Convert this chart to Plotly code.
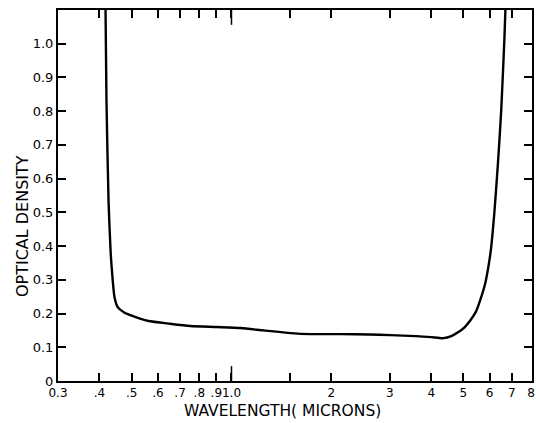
import numpy as np
import plotly.graph_objects as go

# Curve: wavelength (microns) and optical density
wavelength = [0.416, 0.4173, 0.420, 0.426, 0.432, 0.436, 0.444, 0.454, 0.475, 0.496,
              0.53, 0.562, 0.65, 0.752, 0.90, 1.065, 1.25, 1.51, 1.73, 2.13, 2.6,
              3.01, 3.6, 4.0, 4.35, 4.6, 4.83, 5.05, 5.25, 5.45, 5.62, 5.82, 5.95,
              6.05, 6.2, 6.35, 6.5, 6.65, 6.72]
optical_density = [1.15, 1.098, 0.831, 0.535, 0.388, 0.33, 0.249, 0.219, 0.203, 0.195,
                   0.185, 0.178, 0.170, 0.163, 0.160, 0.157, 0.150, 0.142, 0.139, 0.139,
                   0.138, 0.136, 0.133, 0.130, 0.127, 0.133, 0.145, 0.160, 0.180, 0.205,
                   0.240, 0.290, 0.340, 0.388, 0.50, 0.64, 0.80, 1.02, 1.15]

x_tickvals = [0.3, 0.4, 0.5, 0.6, 0.7, 0.8, 0.9, 1.0, 1.5, 2, 3, 4, 5, 6, 7, 8]
x_ticktext = ["0.3", ".4", ".5", ".6", ".7", ".8", ".9", "1.0", "", "2", "3", "4", "5", "6", "7", "8"]
y_tickvals = [0, 0.1, 0.2, 0.3, 0.4, 0.5, 0.6, 0.7, 0.8, 0.9, 1.0]
y_ticktext = ["0", "0.1", "0.2", "0.3", "0.4", "0.5", "0.6", "0.7", "0.8", "0.9", "1.0"]

x_title = "WAVELENGTH( MICRONS)"
y_title = "OPTICAL DENSITY"

font_family = "DejaVu Sans"

fig = go.Figure()
fig.add_trace(go.Scatter(
    x=wavelength, y=optical_density, mode="lines",
    line=dict(color="black", width=2.4, shape="spline", smoothing=0.6),
    showlegend=False, hoverinfo="skip",
))

# longer tick at 1.0 micron (bottom and top)
fig.add_shape(type="line", xref="x", yref="paper", x0=1.0, x1=1.0, y0=0, y1=0.04,
              line=dict(color="black", width=1.5))
fig.add_shape(type="line", xref="x", yref="paper", x0=1.0, x1=1.0, y0=1, y1=0.96,
              line=dict(color="black", width=1.5))

fig.add_annotation(text=x_title, xref="paper", yref="paper", x=0.473, y=-0.082,
                   showarrow=False, xanchor="center", yanchor="middle",
                   font=dict(size=15.5, family=font_family, color="black"))
fig.add_annotation(text=y_title, xref="paper", yref="paper", x=-0.0735, y=0.418,
                   showarrow=False, xanchor="center", yanchor="middle", textangle=-90,
                   font=dict(size=16, family=font_family, color="black"))

fig.update_layout(
    width=536, height=423,
    margin=dict(l=58, r=2, t=10, b=42),
    paper_bgcolor="white", plot_bgcolor="white",
    font=dict(family=font_family, color="black", size=13),
    xaxis=dict(
        type="log", range=[np.log10(0.3), np.log10(8.05)],
        tickmode="array", tickvals=x_tickvals, ticktext=x_ticktext, tickangle=0,
        ticks="inside", ticklen=8, tickwidth=1.5, tickcolor="black",
        showline=True, linecolor="black", linewidth=2, mirror="ticks",
        showgrid=False, zeroline=False,
        tickfont=dict(size=12),
    ),
    yaxis=dict(
        range=[0, 1.1],
        tickmode="array", tickvals=y_tickvals, ticktext=y_ticktext,
        ticks="inside", ticklen=8, tickwidth=1.5, tickcolor="black",
        showline=True, linecolor="black", linewidth=2, mirror="ticks",
        showgrid=False, zeroline=False,
        tickfont=dict(size=13),
    ),
)

fig.write_html("out.html")
